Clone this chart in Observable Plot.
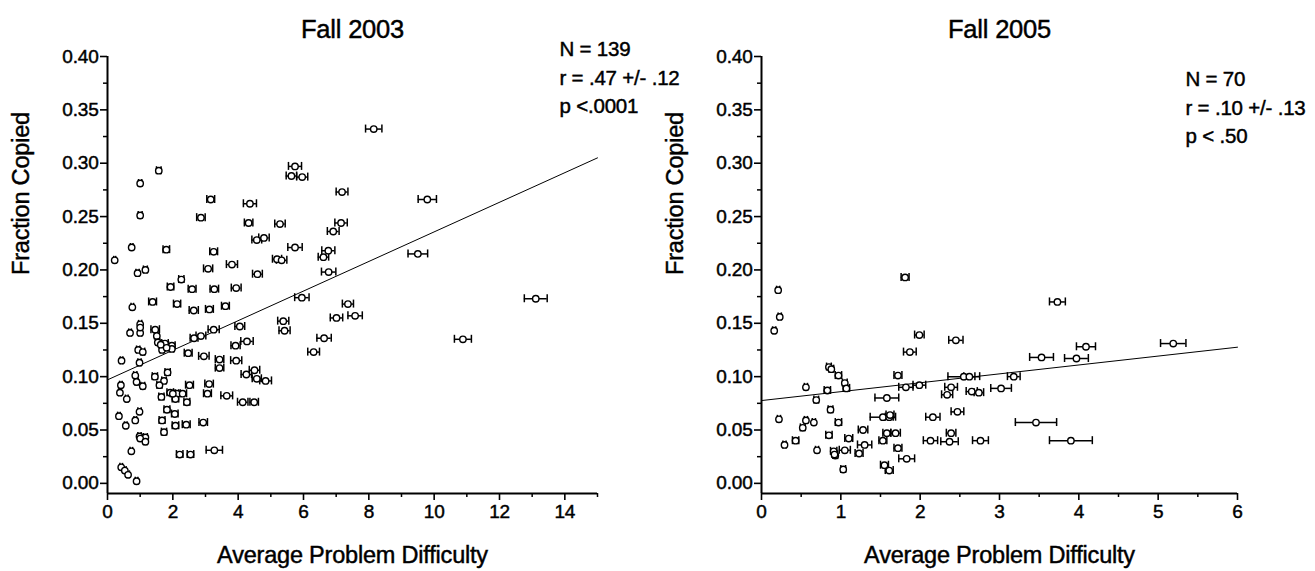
<!DOCTYPE html>
<html><head><meta charset="utf-8">
<script src="https://cdn.jsdelivr.net/npm/d3@7"></script>
<script src="https://cdn.jsdelivr.net/npm/@observablehq/plot@0.6"></script>
<style>
html,body{margin:0;padding:0;background:#fff;}
#wrap{position:relative;width:1315px;height:571px;overflow:hidden;font-family:"Liberation Sans",Arial,sans-serif;}
#wrap svg{position:absolute;top:0;overflow:visible;}
#wrap svg text{stroke:black;stroke-width:0.45px;letter-spacing:-0.2px;}
</style></head><body><div id="wrap"></div>
<script>
// ---------- Fall 2003 ----------
const fall2003X = [8.15,1.57,1.00,5.74,5.63,5.96,7.18,3.16,4.36,9.79,1.00,2.86,4.32,5.28,7.15,6.91,4.57,4.79,0.74,1.80,3.25,5.74,6.76,6.61,9.50,0.22,5.19,5.33,3.08,3.81,0.92,1.16,4.59,6.77,2.26,1.93,2.59,3.27,3.94,5.95,13.11,1.38,0.76,2.13,2.64,3.12,3.61,7.36,7.01,7.58,1.00,5.38,5.42,4.05,3.25,1.00,0.69,1.46,1.51,2.86,2.65,6.63,10.88,4.27,1.54,1.76,1.97,1.67,0.94,1.08,1.97,3.92,6.31,2.47,2.95,3.43,3.94,0.43,0.98,3.43,4.50,4.25,4.57,4.84,1.84,1.45,1.73,0.85,0.89,1.59,0.41,1.08,2.51,3.11,0.38,1.92,2.13,2.30,3.06,3.65,1.65,2.08,0.59,2.43,4.14,4.49,0.98,0.35,1.82,2.06,0.85,1.67,0.56,2.08,2.41,2.93,1.73,0.98,1.16,1.00,1.16,0.73,2.21,2.54,3.27,0.42,0.53,0.63,0.89,1.00,1.63,1.81,2.00];
const fall2003Y = [.332,.293,.281,.297,.288,.287,.273,.266,.262,.266,.251,.249,.244,.243,.244,.236,.228,.230,.221,.219,.217,.221,.218,.212,.215,.209,.210,.209,.201,.205,.197,.200,.196,.198,.191,.184,.182,.182,.183,.174,.173,.170,.165,.168,.162,.163,.166,.168,.155,.157,.149,.152,.143,.147,.144,.141,.141,.144,.138,.138,.136,.136,.135,.133,.132,.131,.129,.125,.125,.123,.126,.129,.123,.122,.119,.116,.115,.115,.113,.108,.106,.102,.098,.096,.104,.100,.096,.101,.095,.092,.092,.091,.092,.093,.085,.085,.084,.084,.084,.082,.081,.079,.079,.076,.076,.076,.067,.063,.069,.065,.059,.059,.054,.054,.055,.057,.048,.044,.043,.042,.039,.030,.027,.027,.031,.015,.012,.008,.002,.146,.130,.127,.084];
const fall2003Err = [.25,.07,.05,.20,.16,.17,.18,.12,.20,.28,.06,.13,.13,.16,.19,.18,.15,.16,.04,.10,.12,.22,.20,.16,.30,.03,.14,.16,.14,.17,.05,.06,.15,.22,.08,.10,.12,.13,.15,.22,.35,.12,.04,.11,.14,.12,.12,.17,.19,.22,.05,.17,.17,.15,.17,.05,.04,.13,.07,.15,.12,.22,.26,.19,.06,.10,.10,.06,.05,.06,.06,.14,.18,.12,.16,.13,.17,.04,.05,.13,.16,.16,.14,.18,.08,.08,.07,.05,.05,.08,.04,.06,.12,.13,.04,.10,.10,.12,.12,.18,.08,.10,.04,.09,.16,.13,.05,.04,.09,.10,.04,.09,.04,.10,.12,.13,.08,.05,.06,.05,.06,.04,.10,.10,.25,.04,.04,.04,.04,.05,.06,.07,.08];
const fall2003FitX = [0, 15];
const fall2003FitY = [0.097, 0.305];
const fall2003Stats = ["N = 139", "r = .47 +/- .12", "p <.0001"];
const fall2003XTicks = [0, 2, 4, 6, 8, 10, 12, 14];
const fall2003XMinor = [1, 3, 5, 7, 9, 11, 13, 15];

// ---------- Fall 2005 ----------
const fall2005X = [1.81,0.21,3.73,0.23,0.16,1.99,2.45,5.19,4.09,1.87,3.53,3.97,0.85,0.97,1.72,2.55,2.62,3.18,1.05,0.56,1.07,0.83,1.82,1.99,2.39,3.02,2.34,2.65,2.74,0.69,1.58,0.87,2.47,2.16,1.53,1.61,3.46,0.22,0.56,0.66,0.97,0.52,1.28,1.58,1.69,2.39,0.85,1.10,0.43,1.53,2.13,2.37,2.76,3.90,0.29,1.30,1.72,0.70,0.91,1.05,0.93,1.23,1.83,1.55,1.61,1.03,0.88,0.92,1.62];
const fall2005Y = [.193,.181,.170,.156,.143,.139,.134,.131,.128,.123,.118,.117,.109,.101,.101,.100,.100,.100,.094,.090,.089,.087,.090,.092,.090,.089,.083,.086,.085,.078,.080,.069,.067,.062,.062,.062,.057,.060,.059,.057,.057,.052,.050,.047,.047,.047,.045,.042,.040,.040,.040,.039,.040,.040,.036,.036,.033,.031,.030,.031,.026,.028,.023,.017,.012,.013,.107,.027,.064];
const fall2005Err = [.05,.02,.10,.02,.02,.06,.09,.16,.12,.08,.15,.15,.03,.04,.05,.20,.07,.08,.03,.02,.04,.04,.09,.08,.08,.13,.07,.07,.06,.03,.15,.03,.08,.09,.16,.05,.26,.02,.02,.02,.04,.03,.06,.05,.06,.06,.04,.05,.04,.05,.09,.11,.10,.27,.02,.09,.05,.02,.04,.07,.03,.05,.10,.05,.05,.03,.03,.03,.05];
const fall2005FitX = [0, 6];
const fall2005FitY = [0.0776, 0.1276];
const fall2005Stats = ["N = 70", "r = .10 +/- .13", "p < .50"];
const fall2005XTicks = [0, 1, 2, 3, 4, 5, 6];
const fall2005XMinor = [0.5, 1.5, 2.5, 3.5, 4.5, 5.5];

// shared
const yTicks = [0, 0.05, 0.10, 0.15, 0.20, 0.25, 0.30, 0.35, 0.40];
const yMinor = [0.025, 0.075, 0.125, 0.175, 0.225, 0.275, 0.325, 0.375];
const yLabel = "Fraction Copied";
const xLabel = "Average Problem Difficulty";

const FONT = '"Liberation Sans", Arial, sans-serif';
const Y_BOTTOM = -0.0095;

function panel(o) {
  const pts = o.xs.map((x, i) => ({x, y: o.ys[i], e: o.errs[i]}));
  const fit = o.fitX.map((x, i) => ({x, y: o.fitY[i]}));
  const svg = Plot.plot({
    width: o.width, height: 571,
    marginLeft: o.marginLeft, marginRight: o.marginRight,
    marginTop: 56, marginBottom: 78,
    style: {background: "transparent", fontFamily: FONT, overflow: "visible", color: "black"},
    x: {domain: o.xDomain},
    y: {domain: [Y_BOTTOM, 0.40]},
    marks: [
      Plot.axisY(yMinor, {anchor: "left", tickSize: 4, tickFormat: () => "", strokeWidth: 1.5, label: null}),
      Plot.axisY(yTicks, {anchor: "left", tickSize: 7, tickPadding: 2, tickFormat: d3.format(".2f"), fontSize: 19, strokeWidth: 1.6, label: null}),
      Plot.axisX(o.xMinor, {anchor: "bottom", tickSize: 4, tickFormat: () => "", strokeWidth: 1.5, label: null}),
      Plot.axisX(o.xTicks, {anchor: "bottom", tickSize: 7, tickPadding: 4, fontSize: 19, strokeWidth: 1.6, label: null}),
      Plot.ruleX([o.xDomain[0]], {strokeWidth: 2}),
      Plot.ruleY([Y_BOTTOM], {strokeWidth: 2}),
      Plot.line(fit, {x: "x", y: "y", strokeWidth: 1}),
      Plot.ruleY(pts, {y: "y", x1: d => d.x - d.e, x2: d => d.x + d.e, strokeWidth: 1.5}),
      Plot.ruleX(pts, {x: d => d.x - d.e, y1: "y", y2: "y", insetTop: -4, insetBottom: -4, strokeWidth: 1.5}),
      Plot.ruleX(pts, {x: d => d.x + d.e, y1: "y", y2: "y", insetTop: -4, insetBottom: -4, strokeWidth: 1.5}),
      Plot.dot(pts, {x: "x", y: "y", r: 3.2, fill: "white", stroke: "black", strokeWidth: 1.4}),
      Plot.text([o.title], {frameAnchor: "top", dy: -27, fontSize: 25.5, lineAnchor: "middle"}),
      Plot.text([o.stats.join("\n")], {frameAnchor: "top-left", dx: o.statsDx, dy: o.statsDy, textAnchor: "start", lineAnchor: "top", fontSize: 20.5, lineHeight: 1.4}),
      Plot.text([xLabel], {frameAnchor: "bottom", dy: 62, fontSize: 23.5, lineAnchor: "middle"}),
      Plot.text([yLabel], {frameAnchor: "left", dx: -86, rotate: -90, fontSize: 23.5, lineAnchor: "middle"})
    ]
  });
  svg.style.left = o.left + "px";
  return svg;
}

const wrap = document.getElementById("wrap");
wrap.appendChild(panel({
  xs: fall2003X, ys: fall2003Y, errs: fall2003Err, fitX: fall2003FitX, fitY: fall2003FitY,
  xDomain: [0, 15], xTicks: fall2003XTicks, xMinor: fall2003XMinor,
  title: "Fall 2003", stats: fall2003Stats, statsDx: 452, statsDy: -21,
  left: 0, width: 680, marginLeft: 107, marginRight: 83
}));
wrap.appendChild(panel({
  xs: fall2005X, ys: fall2005Y, errs: fall2005Err, fitX: fall2005FitX, fitY: fall2005FitY,
  xDomain: [0, 6], xTicks: fall2005XTicks, xMinor: fall2005XMinor,
  title: "Fall 2005", stats: fall2005Stats, statsDx: 424, statsDy: 9,
  left: 655, width: 660, marginLeft: 106, marginRight: 78
}));
</script></body></html>
